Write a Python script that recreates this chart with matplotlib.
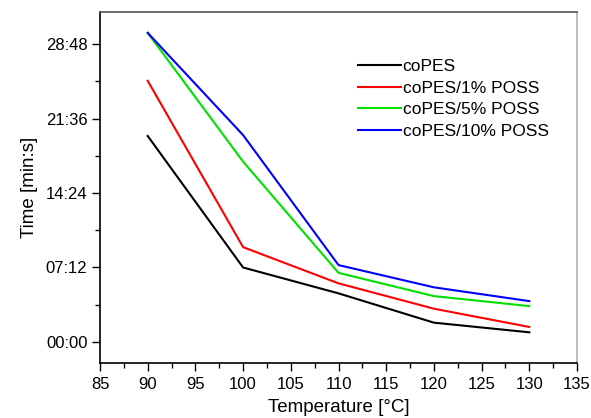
import matplotlib
matplotlib.use("Agg")
import matplotlib.pyplot as plt
from matplotlib.ticker import MultipleLocator, FuncFormatter

plt.rcParams['font.family'] = ['Liberation Sans', 'DejaVu Sans']

temperature = [90, 100, 110, 120, 130]
# times in seconds
copes = [1195, 432, 282, 112, 56]
copes_1 = [1515, 550, 340, 193, 87]
copes_5 = [1793, 1046, 401, 266, 208]
copes_10 = [1793, 1200, 446, 317, 237]
labels = ['coPES', 'coPES/1% POSS', 'coPES/5% POSS', 'coPES/10% POSS']
colors = ['#000000', '#ff0000', '#00e000', '#0000ff']

fig = plt.figure(figsize=(5.91, 4.18), dpi=100)
ax = fig.add_axes([100/591, 1 - 363/418, 477/591, 351/418])

for ys, lab, c in zip([copes, copes_1, copes_5, copes_10], labels, colors):
    ax.plot(temperature, ys, color=c, lw=1.5, label=lab)

ax.set_xlim(85, 135)
ax.set_ylim(-122, 1914)
ax.xaxis.set_major_locator(MultipleLocator(5))
ax.xaxis.set_minor_locator(MultipleLocator(2.5))
ax.yaxis.set_major_locator(MultipleLocator(432))
ax.yaxis.set_minor_locator(MultipleLocator(216))
ax.yaxis.set_major_formatter(FuncFormatter(lambda v, p: f"{int(round(v))//60:02d}:{int(round(v))%60:02d}"))

ax.tick_params(axis='both', which='major', direction='out', length=6, width=1, labelsize=12, pad=4)
ax.tick_params(axis='y', which='major', pad=3)
ax.tick_params(axis='both', which='minor', direction='out', length=3.5, width=1)
ax.spines['left'].set_color('black')
ax.spines['bottom'].set_color('black')
ax.spines['top'].set_color('#555555')
ax.spines['right'].set_color('#b0b0b0')
for s in ax.spines.values():
    s.set_linewidth(1.2)

ax.set_xlabel('Temperature [°C]', fontsize=13.5, labelpad=5)
ax.set_ylabel('Time [min:s]', fontsize=13.5, labelpad=6)

leg = ax.legend(loc='upper left', bbox_to_anchor=(0.527, 0.885), frameon=False,
                fontsize=12.5, handlelength=2.45, handletextpad=0.1,
                labelspacing=0.36, borderaxespad=0)

fig.savefig('out.png', dpi=100)
